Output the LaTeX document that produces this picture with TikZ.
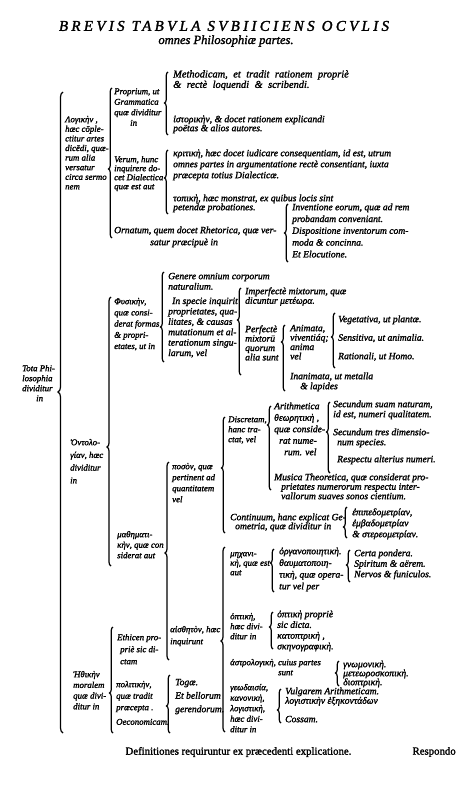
\documentclass[tikz,border=0pt]{standalone}
\usepackage{fontspec}
\setmainfont{Liberation Serif}
\usetikzlibrary{decorations.pathreplacing}
\tikzset{
	txt/.style={anchor=north west, inner sep=0pt, align=left, font=\fontsize{9.6}{#1}\selectfont\itshape\addfontfeature{FakeBold=1.7}},
	txt/.default=10,
	ntxt/.style={txt=#1, font=\fontsize{8.8}{#1}\selectfont\itshape\addfontfeature{FakeBold=1.7}},
	ntxt/.default=10,
	brc/.style={decorate, decoration={brace, amplitude=#1}, line width=1.2pt},
	brc/.default=3.5pt,
}
\newcommand\fs{\rule{0pt}{7pt}}
\newcommand\widesp{\spaceskip=5.5pt plus 1pt\relax}
% x, top, tip, bottom
\newcommand\tabbrace[5][3.5pt]{%
	\pgfmathsetmacro\tbasp{(#5-#4)/(#5-#3)}%
	\draw[brc=#1, decoration={aspect=\tbasp}] (#2,#5) -- (#2,#3);}

\begin{document}
\begin{tikzpicture}[x=1pt, y=-1pt]
	\useasboundingbox (0,0) rectangle (456,786);
	\fill[white] (0,0) rectangle (456,786);
	% title
	\node[font=\fontsize{15}{15}\selectfont\itshape\addfontfeature{LetterSpace=22,FakeBold=1.7}] (title) at (224,26) {BREVIS TABVLA SVBIICIENS OCVLIS};
	\node[font=\fontsize{12.5}{12.5}\selectfont\itshape\addfontfeature{FakeBold=1.7}] (subtitle) at (226,41) {omnes Philosophiæ partes.};
	% left column
	\node[ntxt] (tota) at (22,364) {\fs Tota Phi-\\losophia\\dividitur\\\hspace*{14pt}in};
	\node[ntxt=9.6] (logica) at (65,115) {\fs Λογικὴν ,\\hæc cōple-\\ctitur artes\\dicēdi, quæ-\\rum alia\\versatur\\circa sermo\\nem};
	\node[ntxt=10.5] (proprium) at (114,87) {\fs Proprium, ut\\Grammatica\\quæ dividitur\\\hspace*{16pt}in};
	\node[ntxt=9] (verum) at (114,155) {\fs Verum, hunc\\inquirere do-\\cet Dialectica\\quæ est aut};
	\node[txt=12] (ornatum) at (114,226) {\fs Ornatum, quem docet Rhetorica, quæ ver-\\\hspace*{36pt}satur præcipuè in};
	\node[txt=9, font=\fontsize{10.4}{9}\selectfont\itshape\addfontfeature{FakeBold=1.7}\widesp] (methodica) at (173,70) {\fs Methodicam, et tradit rationem propriè\\\& rectè loquendi \& scribendi.};
	\node[txt=9] (historica) at (173,115) {\fs ἱστορικὴν, \& docet rationem explicandi\\poëtas \& alios autores.};
	\node[txt=11] (critica) at (173,149) {\fs κριτικὴ, hæc docet iudicare consequentiam, id est, utrum\\omnes partes in argumentatione rectè consentiant, iuxta\\præcepta totius Dialecticæ.};
	\node[txt=9] (topica) at (173,194) {\fs τοπικὴ, hæc monstrat, ex quibus locis sint\\petendæ probationes.};
	\node[txt=11.8] (inventio) at (292,203) {\fs Inventione eorum, quæ ad rem\\probandam conveniant.\\Dispositione inventorum com-\\moda \& concinna.\\Et Elocutione.};
	% physica
	\node[ntxt=11.2] (physica) at (114,297) {\fs Φυσικὴν,\\quæ consi-\\derat formas\\\& propri-\\etates, ut in};
	\node[txt=10.4] (genere) at (168,272) {\fs Genere omnium corporum\\naturalium.\\[4pt]\hspace*{4pt}In specie inquirit\\proprietates, qua-\\litates, \& causas\\mutationum et al-\\terationum singu-\\larum, vel};
	\node[txt=9.5] (imperfecta) at (245,287) {\fs Imperfectè mixtorum, quæ\\dicuntur μετέωρα.};
	\node[txt=9.4] (perfecta) at (245,325) {\fs Perfectè\\mixtorū\\quorum\\alia sunt};
	\node[txt=9.4] (animata) at (290,324) {\fs Animata,\\viventiáq;\\anima\\vel};
	\node[txt=10] (inanimata) at (290,372) {\fs Inanimata, ut metalla\\\hspace*{10pt}\& lapides};
	\node[txt=18.5] (vegetativa) at (338,315) {\fs Vegetativa, ut plantæ.\\Sensitiva, ut animalia.\\Rationali, ut Homo.};
	% mathematica
	\node[ntxt=12.7] (ontologia) at (70,438) {\fs Ὀντολο-\\γίαν, hæc\\dividitur\\in};
	\node[ntxt=10.5] (mathematica) at (117,530) {\fs μαθηματι-\\κὴν, quæ con\\siderat aut};
	\node[ntxt=11] (poson) at (172,462) {\fs ποσὸν, quæ\\pertinent ad\\quantitatem\\vel};
	\node[ntxt=10] (discreta) at (228,415) {\fs Discretam,\\hanc tra-\\ctat, vel};
	\node[txt=9] (continua) at (230,513) {\fs Continuum, hanc explicat Ge-\\\hspace*{5pt}ometria, quæ dividitur in};
	\node[txt=11.5] (arithmetica) at (274,402) {\fs Arithmetica\\θεωρητικὴ ,\\quæ conside-\\\hspace*{5pt}rat nume-\\\hspace*{10pt}rum. vel};
	\node[txt=9.5] (musica) at (274,473) {\fs Musica Theoretica, quæ considerat pro-\\\hspace*{7pt}prietates numerorum respectu inter-\\\hspace*{7pt}vallorum suaves sonos cientium.};
	\node[txt=10] (natura) at (333,400) {\fs Secundum suam naturam,\\id est, numeri qualitatem.};
	\node[txt=10] (species) at (333,428) {\fs Secundum tres dimensio-\\\hspace*{4pt}num species.};
	\node[txt] (respectu) at (337,455) {\fs Respectu alterius numeri.};
	\node[txt=11] (geometria) at (352,508) {\fs ἐπιπεδομετρίαν,\\ἐμβαδομετρίαν\\\& στερεομετρίαν.};
	% mixta
	\node[ntxt=12] (aisthesis) at (170,625) {\fs αἰσθητὸν, hæc\\inquirunt};
	\node[ntxt=9.5] (mechanica) at (230,549) {\fs μηχανι-\\κὴ, quæ est\\aut};
	\node[txt=11.7] (organica) at (279,547) {\fs ὀργανοποιητικὴ.\\θαυματοποιη-\\τικὴ, quæ opera-\\tur vel per};
	\node[txt=10.5] (pondera) at (354,549) {\fs Certa pondera.\\Spiritum \& aërem.\\Nervos \& funiculos.};
	\node[ntxt=10] (optica) at (230,612) {\fs ὀπτικὴ,\\hæc divi-\\ditur in};
	\node[txt=10.7] (opticae) at (277,610) {\fs ὀπτικὴ propriè\\sic dicta.\\κατοπτρικὴ ,\\σκηνογραφικὴ.};
	\node[ntxt=10] (astrologia) at (230,658) {\fs ἀστρολογικὴ, cuius partes\\\hspace*{48pt}sunt};
	\node[txt=9] (astrologiae) at (343,660) {\fs γνωμονικὴ.\\μετεωροσκοπικὴ.\\διοπτρικὴ.};
	\node[ntxt=10.5] (geodaesia) at (230,683) {\fs γεωδαισία,\\κανονικὴ,\\λογιστικὴ,\\hæc divi-\\ditur in};
	\node[txt=9.5] (logistica) at (285,687) {\fs Vulgarem Arithmeticam.\\λογιστικὴν ἑξηκοντάδων\\[9pt]Cossam.};
	% ethica
	\node[ntxt=10.7] (ethica) at (73,670) {\fs Ἠθικὴν\\moralem\\quæ divi-\\ditur in};
	\node[ntxt=12] (ethice) at (117,633) {\fs Ethicen pro-\\\hspace*{3pt}priè sic di-\\\hspace*{3pt}ctam};
	\node[ntxt=11.5] (politica) at (116,680) {\fs πολιτικὴν,\\quæ tradit\\præcepta .\\[3pt]Oeconomicam.};
	\node[txt=13.5] (togae) at (175,678) {\fs Togæ.\\Et bellorum\\gerendorum.};
	% footer
	\node[font=\fontsize{10.8}{12}\selectfont\addfontfeature{FakeBold=1.7}, anchor=west] (definitiones) at (122,752) {Definitiones requiruntur ex præcedenti explicatione.};
	\node[font=\fontsize{10.8}{12}\selectfont\addfontfeature{FakeBold=1.7}, anchor=west] (respondo) at (409,752) {Respondo};
	% braces
	\tabbrace[5pt]{63}{92}{392}{733}
	\tabbrace{112}{88}{169}{238}
	\tabbrace{168}{72}{103}{135}
	\tabbrace{168}{150}{178}{214}
	\tabbrace{288}{204}{233}{262}
	\tabbrace[4pt]{111}{297}{447}{566}
	\tabbrace{164}{272}{327}{362}
	\tabbrace{241}{288}{320}{375}
	\tabbrace{285}{325}{342}{391}
	\tabbrace{335}{313}{337}{368}
	\tabbrace[4pt]{169}{462}{553}{660}
	\tabbrace{225}{417}{468}{533}
	\tabbrace{271}{406}{425}{490}
	\tabbrace{330}{402}{432}{473}
	\tabbrace{347}{507}{527}{538}
	\tabbrace[4pt]{225}{547}{641}{732}
	\tabbrace{274}{549}{563}{592}
	\tabbrace{350}{550}{565}{582}
	\tabbrace{273}{612}{627}{649}
	\tabbrace{339}{661}{673}{686}
	\tabbrace{281}{689}{710}{723}
	\tabbrace{113}{627}{693}{733}
	\tabbrace{170}{675}{706}{733}
\end{tikzpicture}
\end{document}
